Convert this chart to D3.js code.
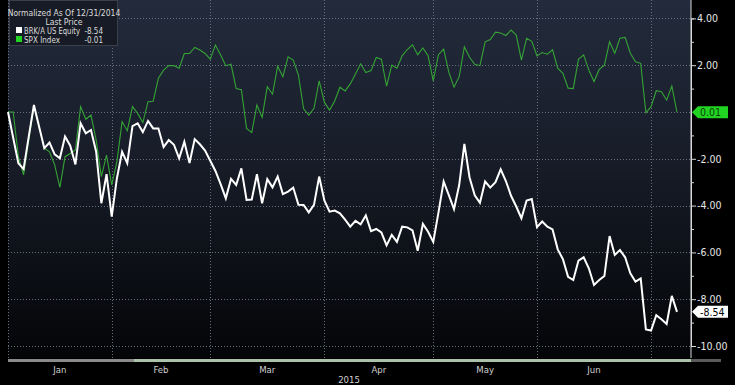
<!DOCTYPE html>
<html>
<head>
<meta charset="utf-8">
<script src="https://cdnjs.cloudflare.com/ajax/libs/d3/7.8.5/d3.min.js"></script>
<style>
  body { margin: 0; background: #000; }
  svg { display: block; font-family: "DejaVu Sans Condensed", "Liberation Sans Narrow", "DejaVu Sans", sans-serif; }
</style>
</head>
<body>
<div id="chart"></div>
<script>
// normalized % change since 12/31/2014, one value per trading day
const brk = [0.00, -1.10, -2.19, -2.44, -1.05, 0.30, -0.63, -1.55, -1.31, -1.81,
  -1.98, -1.05, -1.44, -2.24, -0.48, -0.91, -0.77, -1.70, -3.90, -2.66,
  -4.47, -2.83, -1.70, -2.19, -0.60, -0.48, -0.86, -0.38, -0.70, -0.70,
  -1.50, -1.20, -1.40, -1.98, -1.27, -2.18, -1.16, -1.38, -1.65, -2.08,
  -2.52, -3.08, -3.69, -2.86, -3.12, -2.41, -3.76, -3.74, -2.66, -3.90,
  -2.87, -3.22, -2.76, -3.51, -3.40, -3.23, -3.96, -3.97, -4.29, -3.97,
  -2.76, -3.78, -4.26, -4.21, -4.33, -4.60, -4.90, -4.65, -4.80, -4.42,
  -5.09, -5.00, -5.15, -5.70, -5.25, -5.55, -4.90, -4.93, -5.06, -5.93,
  -4.78, -5.12, -5.55, -4.30, -2.97, -3.55, -4.15, -3.12, -1.36, -2.80,
  -3.56, -3.88, -2.97, -3.23, -3.00, -2.45, -2.95, -3.58, -4.04, -4.54,
  -3.78, -3.72, -4.92, -4.68, -4.90, -5.02, -5.87, -6.29, -7.04, -7.18,
  -6.35, -6.21, -6.68, -7.39, -7.18, -7.01, -5.30, -6.11, -5.90, -6.21,
  -6.89, -7.25, -7.11, -9.29, -9.34, -8.68, -8.86, -9.06, -7.86, -8.54];

const spx = [0.00, 0.00, -1.90, -2.69, -1.20, 0.25, -0.64, -1.55, -1.70, -2.26,
  -3.22, -1.91, -1.77, -1.62, 0.23, -0.31, -0.13, -1.20, -2.76, -1.84,
  -3.12, -2.12, -0.41, -0.80, 0.23, -0.06, -0.45, 0.44, 0.46, 1.44,
  1.79, 1.98, 1.98, 1.87, 2.50, 2.50, 2.76, 2.65, 2.50, 2.26,
  2.86, 2.44, 1.98, 2.04, 1.00, 0.95, -0.70, -0.88, 0.30, -0.23,
  1.08, 0.76, 1.96, 1.51, 2.36, 2.22, 1.58, 0.14, -0.13, 0.16,
  1.33, 0.42, 0.08, 0.47, 1.06, 0.90, 1.20, 1.62, 2.06, 1.69,
  1.77, 2.33, 2.26, 1.11, 2.00, 1.87, 2.40, 2.67, 2.87, 2.45,
  2.74, 2.41, 1.33, 2.45, 2.69, 1.70, 1.06, 1.51, 2.79, 2.34,
  2.04, 1.98, 3.00, 3.10, 3.41, 3.38, 3.27, 3.50, 3.29, 2.22,
  3.15, 3.02, 2.40, 2.54, 2.47, 2.66, 1.87, 1.65, 1.02, 1.00,
  2.25, 2.44, 1.79, 1.30, 1.82, 2.00, 3.00, 2.51, 3.15, 3.19,
  2.51, 2.15, 2.08, -0.03, 0.23, 0.91, 0.87, 0.51, 1.11, -0.01];

const seriesNames = ['BRK/A US Equity', 'SPX Index'];
const lastLabels = ['-8.54', '0.01'];
const legendValues = ['-8.54', '-0.01'];
const legendTitle = ['Normalized As Of 12/31/2014', 'Last Price'];
const months = ['Jan', 'Feb', 'Mar', 'Apr', 'May', 'Jun'];
const monthEnds = [0, 20, 39, 61, 82, 102, 124];   // trading-day index of month ends
const majorTicks = [4, 2, -2, -4, -6, -8, -10];
const gridTicks = [4, 2, 0, -2, -4, -6, -8, -10];
const minorTicks = [3, 1, -1, -3, -5, -7, -9];
const yearLabel = '2015';

const W = 735, H = 385;
const plot = { left: 8, right: 691, top: 0, bottom: 358 };

const svg = d3.select('#chart').append('svg')
  .attr('width', W).attr('height', H);

// Background
svg.append('rect').attr('width', W).attr('height', H).attr('fill', '#000');

const defs = svg.append('defs');
const grad = defs.append('linearGradient')
  .attr('id', 'bg').attr('x1', 0).attr('y1', 0).attr('x2', 0).attr('y2', 1);
grad.append('stop').attr('offset', '0%').attr('stop-color', '#232b3c');
grad.append('stop').attr('offset', '45%').attr('stop-color', '#171c28');
grad.append('stop').attr('offset', '100%').attr('stop-color', '#040507');

svg.append('rect')
  .attr('x', plot.left).attr('y', plot.top)
  .attr('width', plot.right - plot.left).attr('height', plot.bottom - plot.top)
  .attr('fill', 'url(#bg)');

// Scales
const x = d3.scaleLinear().domain([0, brk.length - 1]).range([8, 677]);
const y = d3.scaleLinear().domain([-10, 4]).range([346, 18.4]);

// Grid
const grid = svg.append('g').attr('stroke', '#676e7c').attr('stroke-width', 1)
  .attr('stroke-dasharray', '1,2').attr('shape-rendering', 'crispEdges');
grid.selectAll('.hg').data(gridTicks).join('line')
  .attr('x1', plot.left).attr('x2', plot.right)
  .attr('y1', d => Math.round(y(d)) + 0.5).attr('y2', d => Math.round(y(d)) + 0.5);
grid.selectAll('.vg').data(monthEnds).join('line')
  .attr('x1', d => Math.round(x(d)) + 0.5).attr('x2', d => Math.round(x(d)) + 0.5)
  .attr('y1', plot.top).attr('y2', plot.bottom);

// Lines
const line = d3.line().x((d, i) => x(i)).y(d => y(d));
svg.append('path').datum(spx)
  .attr('d', line).attr('fill', 'none')
  .attr('stroke', '#35a335').attr('stroke-width', 1.1);
svg.append('path').datum(brk)
  .attr('d', line).attr('fill', 'none')
  .attr('stroke', '#ffffff').attr('stroke-width', 2).attr('stroke-linejoin', 'miter');

// Right axis
const axisG = svg.append('g').attr('transform', `translate(${plot.right},0)`);
axisG.call(d3.axisRight(y).tickValues(majorTicks).tickSize(5)
  .tickFormat(d => d.toFixed(2)));
axisG.append('g').call(d3.axisRight(y).tickValues(minorTicks).tickSize(3).tickFormat(''));
axisG.selectAll('.domain').attr('stroke', '#d8d8d8');
axisG.selectAll('.tick line').attr('stroke', '#d8d8d8');
axisG.selectAll('.tick text').attr('fill', '#e6e6e6').attr('font-size', 10.5)
  .attr('x', 6).attr('font-family', '"DejaVu Sans Condensed", sans-serif');
axisG.select('.domain').attr('d', `M0,0V${plot.bottom}`);

// Last value tags
const tags = [
  { v: brk[brk.length - 1], label: lastLabels[0], fill: '#ffffff', text: '#000' },
  { v: spx[spx.length - 1], label: lastLabels[1], fill: '#22d422', text: '#0b3d0b' }
];
tags.forEach(t => {
  const cy = y(t.v);
  svg.append('path')
    .attr('d', `M${plot.right + 1},${cy} L${plot.right + 7},${cy - 6} L${728},${cy - 6} L${728},${cy + 6} L${plot.right + 7},${cy + 6} Z`)
    .attr('fill', t.fill);
  svg.append('text').attr('x', plot.right + 9).attr('y', cy + 4)
    .attr('font-size', 10.5).attr('fill', t.text).text(t.label);
});

// Bottom scroll bar
svg.append('rect').attr('x', plot.left).attr('y', 359).attr('width', plot.right - plot.left)
  .attr('height', 3).attr('fill', '#a9c2a9');
svg.append('rect').attr('x', plot.left).attr('y', 359).attr('width', 126)
  .attr('height', 3).attr('fill', '#8a8a8a');
svg.append('rect').attr('x', plot.right).attr('y', 359).attr('width', 30)
  .attr('height', 3).attr('fill', '#5a5a5a');

// Month labels
const mid = months.map((m, i) => (x(monthEnds[i]) + x(monthEnds[i + 1])) / 2);
svg.selectAll('.month').data(months).join('text')
  .attr('x', (d, i) => mid[i]).attr('y', 373)
  .attr('text-anchor', 'middle').attr('font-size', 9.5).attr('fill', '#d0d0d0')
  .text(d => d);
svg.append('text').attr('x', 349).attr('y', 383)
  .attr('text-anchor', 'middle').attr('font-size', 9.5).attr('fill', '#d0d0d0')
  .text(yearLabel);

// Legend
const lg = svg.append('g');
lg.append('rect').attr('x', 9.5).attr('y', 0.5).attr('width', 108).attr('height', 45)
  .attr('fill', '#171b25').attr('stroke', '#3a3f4a');
lg.selectAll('.lt').data(legendTitle).join('text')
  .attr('x', 64).attr('y', (d, i) => 16 + i * 8.5)
  .attr('text-anchor', 'middle').attr('font-size', 8.5).attr('fill', '#dcdcdc')
  .text(d => d);
const colors = ['#ffffff', '#22d422'];
seriesNames.forEach((name, i) => {
  const ry = 27 + i * 9;
  lg.append('rect').attr('x', 16).attr('y', ry).attr('width', 6).attr('height', 6)
    .attr('fill', colors[i]);
  const t = lg.append('text').attr('x', 24).attr('y', ry + 6.5)
    .attr('font-size', 8).attr('fill', '#dcdcdc').text(name);
  if (i === 0) t.attr('textLength', 56).attr('lengthAdjust', 'spacingAndGlyphs');
  lg.append('text').attr('x', 103).attr('y', ry + 6.5).attr('text-anchor', 'end')
    .attr('font-size', 8).attr('fill', '#dcdcdc').text(legendValues[i]);
});
</script>
</body>
</html>
